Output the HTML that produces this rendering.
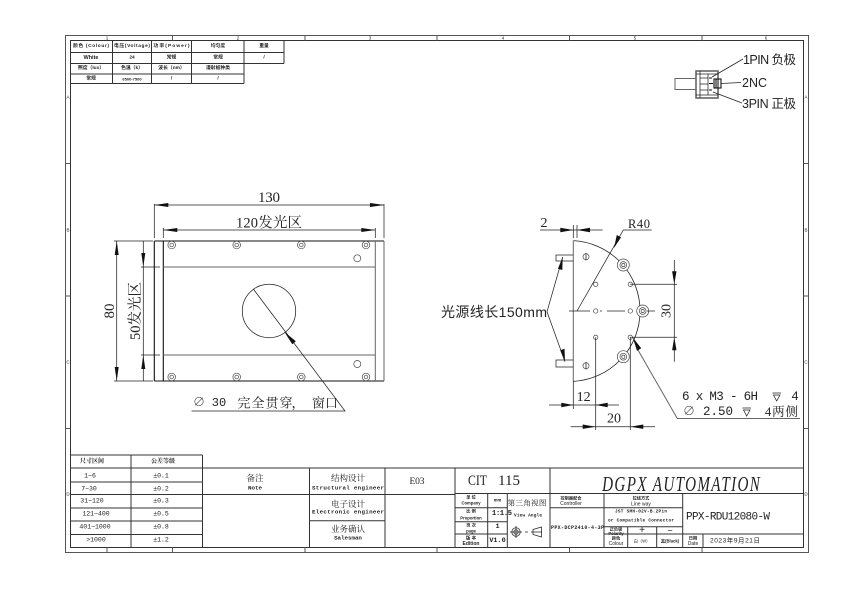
<!DOCTYPE html>
<html>
<head>
<meta charset="utf-8">
<style>
html,body{margin:0;padding:0;background:#fff;width:849px;height:603px;overflow:hidden}
svg{display:block;filter:blur(.35px)}
text{fill:#222;text-anchor:middle;dominant-baseline:central;font-family:"Liberation Serif","Noto Serif CJK SC",serif}
.s text,text.s{font-family:"Liberation Sans","Noto Sans CJK SC",sans-serif}
.m text,text.m{font-family:"Liberation Mono","Noto Serif CJK SC",monospace}
text.l{text-anchor:start}
.f{stroke:#555;stroke-width:1;fill:none}
.t{stroke:#333;stroke-width:1;fill:none}
.g{stroke:#666;stroke-width:1;fill:none}
.d{stroke:#222;stroke-width:.75;fill:none}
.b{stroke:#111;stroke-width:1.1;fill:none}
.a{fill:#111;stroke:none}
</style>
</head>
<body>
<svg width="849" height="603" viewBox="0 0 849 603" xmlns="http://www.w3.org/2000/svg">
<rect width="849" height="603" fill="#fff"/>

<!-- frame -->
<rect class="f" x="65.5" y="35.5" width="743" height="517"/>
<rect class="t" x="70.5" y="40.5" width="733" height="507"/>
<path class="f" d="M172.5 35.5V40.5M305 35.5V40.5M437 35.5V40.5M569.5 35.5V40.5M702 35.5V40.5M172.5 547.5V552.5M305 547.5V552.5M437 547.5V552.5M569.5 547.5V552.5M702 547.5V552.5M65.5 163.5H70.5M65.5 296H70.5M65.5 428.5H70.5M803.5 163.5H808.5M803.5 296H808.5M803.5 428.5H808.5M107 547.5V552.5"/>
<g class="s" font-size="4.5">
<text x="107" y="38">1</text><text x="238" y="38">2</text><text x="370" y="38">3</text><text x="503" y="38">4</text><text x="635" y="38">5</text><text x="766" y="38">6</text>
<text x="68" y="97">A</text><text x="68" y="230">B</text><text x="68" y="362">C</text><text x="68" y="494">D</text>
<text x="806" y="97">A</text><text x="806" y="230">B</text><text x="806" y="362">C</text><text x="806" y="494">D</text>
</g>

<!-- top-left table -->
<path class="t" d="M70.5 52.5H284M70.5 63.5H284M70.5 74H244M70.5 83.5H244M112.5 40.5V83.5M151.5 40.5V83.5M191.5 40.5V83.5M244 40.5V83.5M284 40.5V63.5"/>
<g font-size="4.8" class="s" font-weight="bold">
<text x="91" y="46.5" textLength="36">颜色 (Colour)</text><text x="132" y="46.5" textLength="36">电压(Voltage)</text><text x="171.5" y="46.5" textLength="36">功率(Power)</text><text x="218" y="46.5">均匀度</text><text x="264" y="46.5">重量</text>
<text x="91" y="58" font-size="5.5">White</text><text x="132" y="58">24</text><text x="171.5" y="58">常规</text><text x="218" y="58">常规</text><text x="264" y="58">/</text>
<text x="91" y="68.5">照度（lux）</text><text x="132" y="68.5">色温（k）</text><text x="171.5" y="68.5">波长（nm）</text><text x="218" y="68.5">漫射板种类</text>
<text x="91" y="79">常规</text><text x="132" y="79" font-size="4">6500-7500</text><text x="171.5" y="79">/</text><text x="218" y="79">/</text>
</g>

<!-- connector -->
<g>
<rect class="g" x="675" y="78.5" width="21" height="11"/>
<rect x="696" y="71" width="22" height="27" fill="none" stroke="#666" stroke-width="1.6"/>
<path class="d" d="M700 71V98M708 74V95M700 78H708M700 84H708M700 90H708M696 74H718M696 95H718"/>
<rect class="b" x="714" y="79" width="7" height="9"/>
<path class="b" d="M716 79V88M709 78l3 0M709 83.5h4M709 90l3 0" stroke-width="1.6"/>
<path class="d" d="M712 77L743 59M721 83.5L741 82.5M713 92L742 103"/>
</g>
<g class="s" font-size="12.5">
<text class="l" x="743" y="60" textLength="53">1PIN 负极</text>
<text class="l" x="742" y="83" textLength="25">2NC</text>
<text class="l" x="742" y="104" textLength="54">3PIN 正极</text>
</g>

<!-- front view -->
<path class="b" d="M154.3 241H384M154.3 381H384M154.3 241V381M163.3 241V381"/>
<path class="g" d="M384 241V381M375.3 241V381M163.3 267H375.3M163.3 355H375.3"/>
<circle class="d" cx="269" cy="311" r="26.7"/>
<g fill="none" stroke="#444" stroke-width=".7">
<circle cx="171.7" cy="245" r="3.8"/><circle cx="171.7" cy="245" r="1.8"/>
<circle cx="236.7" cy="245" r="3.8"/><circle cx="236.7" cy="245" r="1.8"/>
<circle cx="301.3" cy="245" r="3.8"/><circle cx="301.3" cy="245" r="1.8"/>
<circle cx="366" cy="245" r="3.8"/><circle cx="366" cy="245" r="1.8"/>
<circle cx="171.7" cy="377" r="3.8"/><circle cx="171.7" cy="377" r="1.8"/>
<circle cx="236.7" cy="377" r="3.8"/><circle cx="236.7" cy="377" r="1.8"/>
<circle cx="301.3" cy="377" r="3.8"/><circle cx="301.3" cy="377" r="1.8"/>
<circle cx="366" cy="377" r="3.8"/><circle cx="366" cy="377" r="1.8"/>
<circle cx="357.3" cy="258.3" r="3.5"/><circle cx="357.3" cy="364" r="3.5"/>
</g>
<!-- dims front -->
<path class="d" d="M154.3 204V238M384 204V238M154.3 205H384M163.3 228V238M375.3 228V238M163.3 230H375.3"/>
<path class="a" d="M154.3 205l14-2v4zM384 205l-14-2v4zM163.3 230l14-2v4zM375.3 230l-14-2v4z"/>
<path class="d" d="M114 241H153M114 381H153M116.7 241V381M141 267H160M141 355H160M143.3 241V381"/>
<path class="a" d="M116.7 241l-2 14h4zM116.7 381l-2-14h4zM143.3 267l-2-14h4zM143.3 355l-2 14h4z"/>
<text x="269" y="198" font-size="15" textLength="22">130</text>
<text x="269" y="223.5" font-size="14.5" textLength="66">120发光区</text>
<text transform="translate(110 311) rotate(-90)" font-size="15" textLength="15">80</text>
<text transform="translate(136 311) rotate(-90)" font-size="14.5" textLength="58">50发光区</text>
<path class="d" d="M253.3 289L345 411H191.5"/>
<path class="a" d="M284.3 331.7l11.5 9.5-3.5 3z"/>
<g font-size="13">
<text class="m" x="199" y="403" font-size="12">∅</text>
<text class="m" x="219" y="403" font-size="12">30</text>
<text x="265" y="403" textLength="55">完全贯穿</text>
<text x="298" y="403">，</text>
<text x="325" y="403" textLength="26">窗口</text>
</g>

<!-- side view -->
<path class="d" d="M573.3 240.6A70.5 70.5 0 0 1 573.3 381.4" style="stroke-width:.8"/>
<path class="g" d="M573.3 240.6V381.4"/>
<path class="d" d="M573.3 255H556V261H573.3M573.3 360H556V367H573.3"/>
<path class="d" d="M569 311H590M607 311H625M600 311H602"/>
<g fill="#fff" stroke="#444" stroke-width=".7">
<circle cx="595.7" cy="284.3" r="2.2"/><circle cx="630.3" cy="284.3" r="2.2"/>
<circle cx="595.7" cy="311" r="2.2"/><circle cx="630.3" cy="311" r="2.2"/>
<circle cx="595.7" cy="337.3" r="2.2"/><circle cx="630.3" cy="337.3" r="2.2"/>
<circle cx="623.3" cy="265" r="6"/><circle cx="623.3" cy="265" r="3.4"/><circle cx="623.3" cy="265" r="1.6"/>
<circle cx="642.7" cy="311" r="6"/><circle cx="642.7" cy="311" r="3.4"/><circle cx="642.7" cy="311" r="1.6"/>
<circle cx="623.3" cy="356.7" r="6"/><circle cx="623.3" cy="356.7" r="3.4"/><circle cx="623.3" cy="356.7" r="1.6"/>
<circle cx="586" cy="256.7" r="3"/><circle cx="586" cy="365.7" r="3"/>
</g>
<path class="d" d="M586 253V260.5M586 362V369.5M647 311H655"/>
<!-- dims side -->
<path class="d" d="M540 230H602.7M573.3 225V238M577 225V238"/>
<path class="a" d="M573.3 230l-13-2.2v4.4zM577 230l13-2.2v4.4z"/>
<text x="544" y="223.5" font-size="14">2</text>
<path class="d" d="M577 311L623.3 230H651.7"/>
<path class="a" d="M614 248l2.8-13 4.2 2.4z"/>
<text x="639" y="224" font-size="12.5" textLength="22">R40</text>
<text class="s" x="494" y="312" font-size="14" textLength="106">光源线长150mm</text>
<path class="d" d="M547 311.7L562.7 257M547 311.7L565 361.7"/>
<path class="a" d="M562.7 257l-.4 13-4.4-1.3zM565 361.7l-.5-13-4.3 1.6z"/>
<path class="d" d="M630.3 284.3H677M630.3 337.3H677M674.3 260V361.7"/>
<path class="a" d="M674.3 284.3l-2.2-13h4.4zM674.3 337.3l-2.2 13h4.4z"/>
<text transform="translate(667 311) rotate(-90)" font-size="14">30</text>
<path class="d" d="M573.3 381V409M595.7 337.3V430M630.3 337.3V430M549 405H619M570.7 426.7H655"/>
<path class="a" d="M573.3 405l-12-2.2v4.4zM595.7 405l12-2.2v4.4zM595.7 426.7l-13-2.2v4.4zM630.3 426.7l13-2.2v4.4z"/>
<text x="583.6" y="397.5" font-size="14">12</text>
<text x="614" y="419" font-size="14">20</text>
<path class="g" d="M638 350L677.3 418.5H800"/>
<path class="a" d="M632.7 337.3l8.5 11-4.2 2.6z"/>
<text class="m l" x="682" y="397" font-size="12.5" xml:space="preserve" textLength="76">6 x M3 - 6H</text>
<text class="m" x="795" y="397" font-size="12.5">4</text>
<path class="d" d="M772.5 393H781M773.5 395H780L776.7 401ZM742.5 408H751M743.5 410H750L746.7 416Z"/>
<text class="m" x="689" y="412" font-size="12">∅</text>
<text class="m" x="718" y="412" font-size="12.5" textLength="30">2.50</text>
<text class="l" x="765" y="412" font-size="12.5" textLength="33">4两侧</text>

<!-- bottom-left tolerance table -->
<path class="t" d="M70.5 455H202.5M70.5 468H202.5M70.5 482H202.5M70.5 494.5H202.5M70.5 508H202.5M70.5 521H202.5M70.5 534.5H202.5M131 455V547.5M202.5 455V547.5"/>
<g font-size="6.5" class="m">
<text x="92" y="461.5" font-size="6" font-weight="bold">尺寸区间</text><text x="163" y="461.5" font-size="6" font-weight="bold">公差等级</text>
<text x="90" y="476">1~6</text><text x="161" y="476">±0.1</text>
<text x="89" y="489">7~30</text><text x="161" y="489">±0.2</text>
<text x="92" y="501">31~120</text><text x="161" y="501">±0.3</text>
<text x="96" y="514">121~400</text><text x="161" y="514">±0.5</text>
<text x="95" y="527">401~1000</text><text x="161" y="527">±0.8</text>
<text x="96" y="540">&gt;1000</text><text x="161" y="540">±1.2</text>
</g>

<!-- title block -->
<path class="t" d="M202.5 468H803.5M202.5 494.5H455M309.5 468V547.5M385 468V547.5M455 468V547.5M550 468V547.5M309.5 520.7H385"/>
<path class="t" d="M455 493.5H803.5M487.7 493.5V547.5M507.3 493.5V547.5M455 507.7H507.3M455 521.7H507.3M455 534H507.3M604 493.5V547.5M682.7 493.5V547.5M550 507.7H682.7M604 526.7H682.7M627.7 526.7V547.5M656.7 526.7V547.5M604 534H803.5M703 534V547.5"/>
<g font-size="8.5">
<text x="255" y="478">备注</text><text x="348" y="478">结构设计</text><text x="348" y="504">电子设计</text><text x="348" y="529">业务确认</text>
</g>
<g class="m" font-size="5.8" font-weight="bold">
<text x="255" y="488">Note</text>
<text x="348" y="488" textLength="72">Structural engineer</text>
<text x="348" y="512" textLength="72">Electronic engineer</text>
<text x="348" y="538">Salesman</text>
</g>
<text x="417" y="482" font-size="9.5" textLength="15">E03</text>
<text x="477.5" y="481" font-size="15" textLength="19" lengthAdjust="spacingAndGlyphs">CIT</text>
<text x="509" y="481" font-size="15" textLength="22">115</text>
<text transform="translate(681 484) scale(.72 1)" font-size="21" font-style="italic" textLength="219">DGPX AUTOMATION</text>

<g font-size="4.2" class="s" font-weight="bold">
<text x="471" y="497">单 位</text><text x="471" y="503">Company</text>
<text x="471" y="511">比 例</text><text x="471" y="518">Proportion</text>
<text x="471" y="525">页 次</text><text x="471" y="531">page</text>
<text x="471" y="538" font-size="4.6">版 本</text><text x="471" y="544" font-size="5">Edition</text>
<text x="497.5" y="500">mm</text>
<text x="571" y="498">控制器配合</text><text x="571" y="504" font-size="5" font-weight="normal">Controller</text>
<text x="641" y="498">拉线方式</text><text x="641" y="504.5" font-size="5" font-weight="normal">Line way</text>
<text x="616" y="529">正负极</text><text x="616" y="533.5">Polarity</text>
<text x="616" y="538">颜色</text><text x="616" y="544" font-size="5" font-weight="normal">Colour</text>
<text x="642" y="541" font-weight="normal">白（W）</text><text x="670" y="541">黑(Black)</text>
<text x="693" y="538">日期</text><text x="693" y="544" font-size="5" font-weight="normal">Date</text>
</g>
<g class="m" font-size="6.8" font-weight="bold">
<text class="l" x="492" y="514" font-size="7" textLength="20">1:1.5</text>
<text x="497.5" y="527">1</text>
<text x="497.5" y="541">V1.0</text>
</g>
<text x="527" y="503" font-size="7.6" textLength="39">第三角视图</text>
<text class="m" x="528" y="516" font-size="4.4" font-weight="bold" textLength="28">View Angle</text>
<g class="d">
<circle cx="516" cy="532" r="4.2"/><circle cx="516" cy="532" r="2.2"/>
<path d="M510 532H522M516 526V538M525 532H528M531 532H542M533 529.5L541.5 527V537L533 534.5Z"/>
</g>
<text x="577.5" y="528" class="m" font-size="5" font-weight="bold" textLength="53">PPX-DCP2410-4-3P</text>
<text x="641" y="512" class="m" font-size="4.4" font-weight="bold" textLength="52">JST SMH-02V-B.2Pin</text>
<text x="641" y="521" class="m" font-size="4.4" font-weight="bold" textLength="66">or Compatible Connector</text>
<text x="642" y="530.5" font-size="10" class="s">+</text>
<text x="670" y="530.5" font-size="9" class="s">−</text>
<text x="728" y="517.5" font-size="11" class="m" textLength="84">PPX-RDU12080-W</text>
<text x="735" y="541" font-size="6.5" class="s" textLength="50">2023年9月21日</text>
</svg>
</body>
</html>
